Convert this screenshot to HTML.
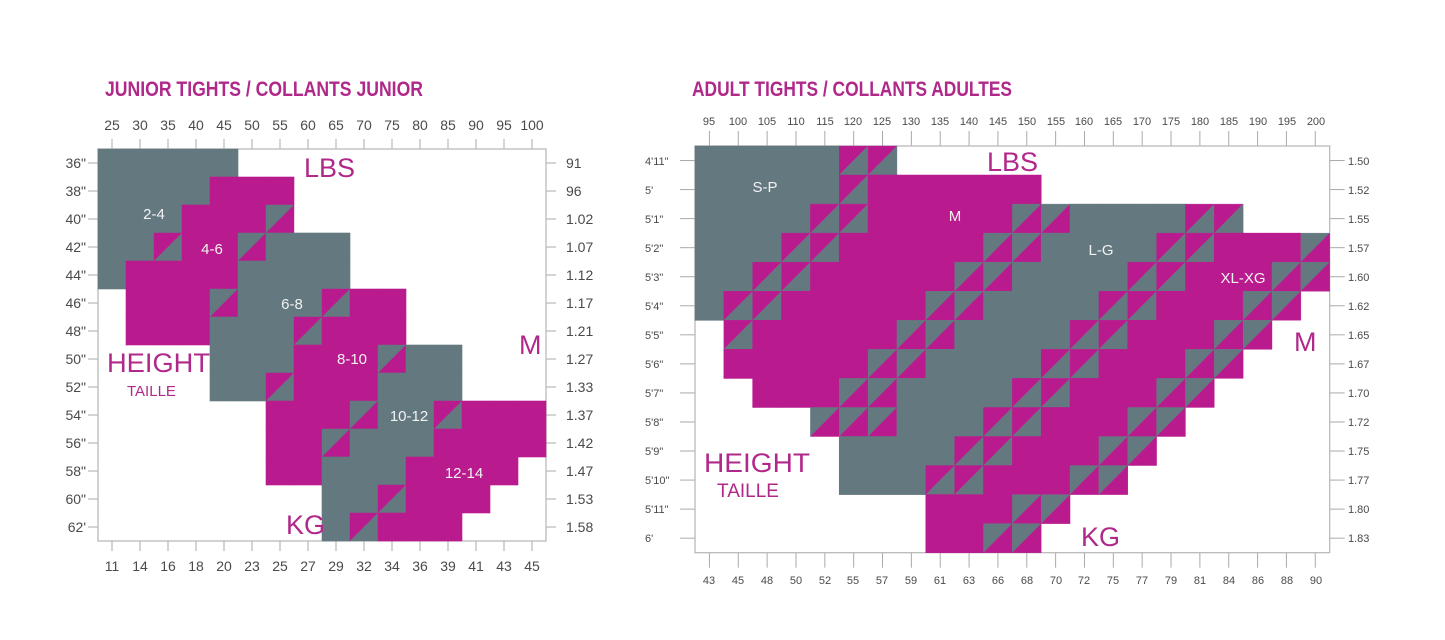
<!DOCTYPE html>
<html><head><meta charset="utf-8"><style>
html,body{margin:0;padding:0;background:#fff;}
svg{display:block;}
text{font-family:"Liberation Sans",sans-serif;}
.ax{fill:#4a4a4a;font-size:14px;}
.axs{fill:#4a4a4a;font-size:11px;}
.big{fill:#b0288a;}
.cl{fill:#f2f2f2;font-size:15px;}
</style></head><body>
<svg id="s" width="1445" height="640" viewBox="0 0 1445 640" xmlns="http://www.w3.org/2000/svg">
<rect width="1445" height="640" fill="#fff"/>
<g id="jr"></g>
<g id="ad"></g>
<!-- titles -->
<text x="105" y="96" font-size="21" font-weight="bold" fill="#b0288a" textLength="318" lengthAdjust="spacingAndGlyphs">JUNIOR TIGHTS / COLLANTS JUNIOR</text>
<text x="692" y="96" font-size="21" font-weight="bold" fill="#b0288a" textLength="320" lengthAdjust="spacingAndGlyphs">ADULT TIGHTS / COLLANTS ADULTES</text>
<!-- junior axis labels -->
<g class="ax" text-anchor="middle">
<text x="112" y="130">25</text><text x="140" y="130">30</text><text x="168" y="130">35</text><text x="196" y="130">40</text><text x="224" y="130">45</text><text x="252" y="130">50</text><text x="280" y="130">55</text><text x="308" y="130">60</text><text x="336" y="130">65</text><text x="364" y="130">70</text><text x="392" y="130">75</text><text x="420" y="130">80</text><text x="448" y="130">85</text><text x="476" y="130">90</text><text x="504" y="130">95</text><text x="532" y="130">100</text>
<text x="112" y="571">11</text><text x="140" y="571">14</text><text x="168" y="571">16</text><text x="196" y="571">18</text><text x="224" y="571">20</text><text x="252" y="571">23</text><text x="280" y="571">25</text><text x="308" y="571">27</text><text x="336" y="571">29</text><text x="364" y="571">32</text><text x="392" y="571">34</text><text x="420" y="571">36</text><text x="448" y="571">39</text><text x="476" y="571">41</text><text x="504" y="571">43</text><text x="532" y="571">45</text>
</g>
<g class="ax" text-anchor="end">
<text x="86" y="168">36"</text><text x="86" y="196">38"</text><text x="86" y="224">40"</text><text x="86" y="252">42"</text><text x="86" y="280">44"</text><text x="86" y="308">46"</text><text x="86" y="336">48"</text><text x="86" y="364">50"</text><text x="86" y="392">52"</text><text x="86" y="420">54"</text><text x="86" y="448">56"</text><text x="86" y="476">58"</text><text x="86" y="504">60"</text><text x="86" y="532">62'</text>
</g>
<g class="ax">
<text x="566" y="168">91</text><text x="566" y="196">96</text><text x="566" y="224">1.02</text><text x="566" y="252">1.07</text><text x="566" y="280">1.12</text><text x="566" y="308">1.17</text><text x="566" y="336">1.21</text><text x="566" y="364">1.27</text><text x="566" y="392">1.33</text><text x="566" y="420">1.37</text><text x="566" y="448">1.42</text><text x="566" y="476">1.47</text><text x="566" y="504">1.53</text><text x="566" y="532">1.58</text>
</g>
<!-- junior big labels -->
<text class="big" x="304" y="177" font-size="27">LBS</text>
<text class="big" x="519" y="354" font-size="27">M</text>
<text class="big" x="107" y="372" font-size="27" textLength="103" lengthAdjust="spacingAndGlyphs">HEIGHT</text>
<text class="big" x="127" y="396" font-size="15">TAILLE</text>
<text class="big" x="286" y="534" font-size="27">KG</text>
<g class="cl" text-anchor="middle">
<text x="154" y="219">2-4</text><text x="212" y="254">4-6</text><text x="292" y="309">6-8</text><text x="352" y="364">8-10</text><text x="409" y="421">10-12</text><text x="464" y="478">12-14</text>
</g>
<!-- adult axis labels -->
<g class="axs" text-anchor="middle" id="adtop"></g>
<g class="axs">
<text x="645" y="165">4'11"</text><text x="645" y="194">5'</text><text x="645" y="223">5'1"</text><text x="645" y="252">5'2"</text><text x="645" y="281">5'3"</text><text x="645" y="310">5'4"</text><text x="645" y="339">5'5"</text><text x="645" y="368">5'6"</text><text x="645" y="397">5'7"</text><text x="645" y="426">5'8"</text><text x="645" y="455">5'9"</text><text x="645" y="484">5'10"</text><text x="645" y="513">5'11"</text><text x="645" y="542">6'</text>
<text x="1348" y="165">1.50</text><text x="1348" y="194">1.52</text><text x="1348" y="223">1.55</text><text x="1348" y="252">1.57</text><text x="1348" y="281">1.60</text><text x="1348" y="310">1.62</text><text x="1348" y="339">1.65</text><text x="1348" y="368">1.67</text><text x="1348" y="397">1.70</text><text x="1348" y="426">1.72</text><text x="1348" y="455">1.75</text><text x="1348" y="484">1.77</text><text x="1348" y="513">1.80</text><text x="1348" y="542">1.83</text>
</g>
<g class="axs" text-anchor="middle">
<text x="709" y="125">95</text><text x="738" y="125">100</text><text x="767" y="125">105</text><text x="796" y="125">110</text><text x="825" y="125">115</text><text x="853" y="125">120</text><text x="882" y="125">125</text><text x="911" y="125">130</text><text x="940" y="125">135</text><text x="969" y="125">140</text><text x="998" y="125">145</text><text x="1027" y="125">150</text><text x="1056" y="125">155</text><text x="1084" y="125">160</text><text x="1113" y="125">165</text><text x="1142" y="125">170</text><text x="1171" y="125">175</text><text x="1200" y="125">180</text><text x="1229" y="125">185</text><text x="1258" y="125">190</text><text x="1287" y="125">195</text><text x="1316" y="125">200</text>
<text x="709" y="584">43</text><text x="738" y="584">45</text><text x="767" y="584">48</text><text x="796" y="584">50</text><text x="825" y="584">52</text><text x="853" y="584">55</text><text x="882" y="584">57</text><text x="911" y="584">59</text><text x="940" y="584">61</text><text x="969" y="584">63</text><text x="998" y="584">66</text><text x="1027" y="584">68</text><text x="1056" y="584">70</text><text x="1084" y="584">72</text><text x="1113" y="584">75</text><text x="1142" y="584">77</text><text x="1171" y="584">79</text><text x="1200" y="584">81</text><text x="1229" y="584">84</text><text x="1258" y="584">86</text><text x="1287" y="584">88</text><text x="1316" y="584">90</text>
</g>
<!-- adult big labels -->
<text class="big" x="987" y="171" font-size="27">LBS</text>
<text class="big" x="1294" y="351" font-size="27">M</text>
<text class="big" x="704" y="472" font-size="27" textLength="106" lengthAdjust="spacingAndGlyphs">HEIGHT</text>
<text class="big" x="717" y="497" font-size="19">TAILLE</text>
<text class="big" x="1081" y="546" font-size="27">KG</text>
<g class="cl" text-anchor="middle">
<text x="765" y="192">S-P</text><text x="955" y="221">M</text><text x="1101" y="255">L-G</text><text x="1243" y="283">XL-XG</text>
</g>
</svg>
<script>
(function(){
var NS="http://www.w3.org/2000/svg",G="#647880",P="#b91b8f";
function el(p,n,a){var e=document.createElementNS(NS,n);for(var k in a)e.setAttribute(k,a[k]);p.insertBefore(e,p.firstChild?null:null);p.appendChild(e);return e;}
function draw(gid,x0,y0,cw,ch,map,tl){
 var g=document.getElementById(gid),cols=map[0].length,rows=map.length,W=cw*cols,H=ch*rows;
 // ticks
 for(var c=0;c<cols;c++){var cx=x0+cw*(c+.5);
  el(g,"line",{x1:cx,y1:y0-tl,x2:cx,y2:y0,stroke:"#aaa","stroke-width":1});
  el(g,"line",{x1:cx,y1:y0+H,x2:cx,y2:y0+H+tl,stroke:"#aaa","stroke-width":1});}
 for(var r=0;r<rows;r++){var cy=y0+ch*(r+.5);
  el(g,"line",{x1:x0-tl,y1:cy,x2:x0,y2:cy,stroke:"#aaa","stroke-width":1});
  el(g,"line",{x1:x0+W,y1:cy,x2:x0+W+tl,y2:cy,stroke:"#aaa","stroke-width":1});}
 el(g,"rect",{x:x0,y:y0,width:W,height:H,fill:"#fff",stroke:"#b5b5b5","stroke-width":1.2});
 for(r=0;r<rows;r++)for(c=0;c<cols;c++){
  var t=map[r][c],x=x0+cw*c,y=y0+ch*r;
  if(t==='.')continue;
  if(t==='g'||t==='p'){el(g,"rect",{x:x-0.3,y:y-0.3,width:cw+0.6,height:ch+0.6,fill:t==='g'?G:P});continue;}
  var ul=t==='a'?P:G,lr=t==='a'?G:P;
  el(g,"polygon",{points:x+","+y+" "+(x+cw)+","+y+" "+x+","+(y+ch),fill:ul,stroke:ul,"stroke-width":0.4});
  el(g,"polygon",{points:(x+cw)+","+y+" "+(x+cw)+","+(y+ch)+" "+x+","+(y+ch),fill:lr,stroke:lr,"stroke-width":0.4});
 }
}
draw("jr",98,149,28,28,[
"ggggg...........",
"ggggppp.........",
"gggpppb.........",
"ggappbggg.......",
"gppppgggg.......",
".pppbgggapp.....",
".pppgggappp.....",
"....gggpppbgg...",
"....ggapppggg...",
"......pppbggappp",
"......ppbgggpppp",
"......ppgggpppp.",
"........ggappp..",
"........gappp..."],10);
draw("ad",695,146,28.85,29.05,[
"gggggaa...............",
"gggggapppppp..........",
"ggggaapppppbbggggaa...",
"gggaapppppbbggggaapppb",
"ggaapppppbbggggaapppbb",
"gaapppppbbggggaapppbb.",
".apppppbbggggaapppbb..",
".pppppbbggggaapppbb...",
"..pppbbggggaapppbb....",
"....bbbgggaapppbb.....",
".....ggggaapppbb......",
".....gggaapppbb.......",
"........pppbb.........",
"........ppbb.........."],15);
})();
</script>
</body></html>
